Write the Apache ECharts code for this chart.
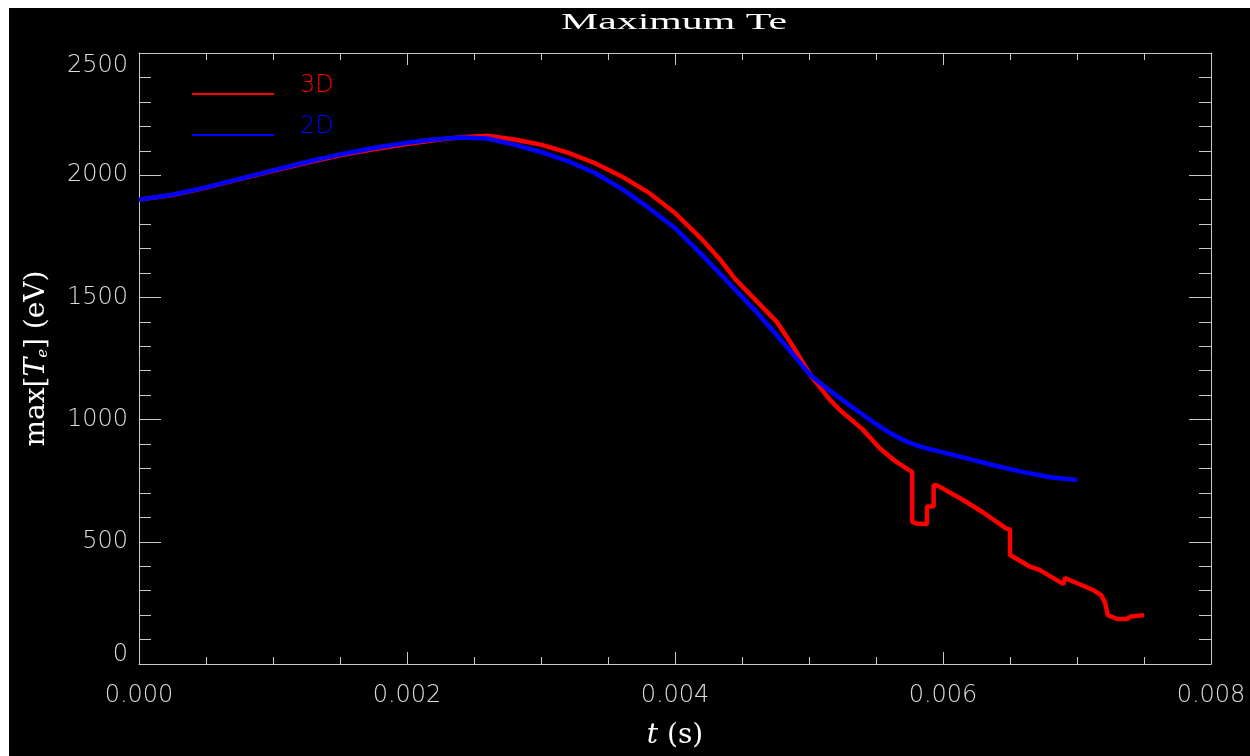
<!DOCTYPE html>
<html><head><meta charset="utf-8">
<script src="https://cdn.jsdelivr.net/npm/echarts@6/dist/echarts.min.js"></script>
<style>
html,body{margin:0;padding:0;background:#fff;width:1250px;height:756px;overflow:hidden}
#c{position:absolute;left:9px;top:8px;width:1241px;height:748px;background:#000}
</style>
</head><body><div id="c"></div>
<script>
// ---- data ----
const t3D = [0, 0.00025, 0.0005, 0.00075, 0.001, 0.00125, 0.0015, 0.00175, 0.002, 0.0022, 0.0024, 0.0026, 0.0028, 0.003, 0.0032, 0.0034, 0.0036, 0.0038, 0.004, 0.0042, 0.00434, 0.00445, 0.0046, 0.00476, 0.00488, 0.00502, 0.00515, 0.00523, 0.0054, 0.00553, 0.00565, 0.00577, 0.00577, 0.0058, 0.00588, 0.00588, 0.00593, 0.00593, 0.00596, 0.00615, 0.0063, 0.00647, 0.0065, 0.0065, 0.00665, 0.00672, 0.0069, 0.00691, 0.00712, 0.00718, 0.00721, 0.00723, 0.0073, 0.00737, 0.0074, 0.0075];
const v3D = [1900, 1919, 1949, 1984, 2018, 2051, 2081, 2106, 2128, 2143, 2155, 2161, 2146, 2125, 2092, 2050, 1996, 1930, 1845, 1738, 1653, 1575, 1490, 1400, 1300, 1175, 1085, 1039, 960, 882, 828, 785, 582, 575, 572, 644, 644, 732, 730, 671, 620, 555, 550, 446, 398, 385, 327, 352, 303, 282, 250, 200, 184, 184, 194, 200];
const t2D = [0, 0.00025, 0.0005, 0.00075, 0.001, 0.00125, 0.0015, 0.00175, 0.002, 0.0022, 0.0024, 0.0026, 0.0028, 0.003, 0.0032, 0.0034, 0.0036, 0.0038, 0.004, 0.0042, 0.0044, 0.0046, 0.0048, 0.005, 0.0051, 0.0052, 0.0053, 0.0054, 0.0055, 0.0056, 0.0057, 0.0058, 0.0059, 0.006, 0.0062, 0.0064, 0.0066, 0.0068, 0.007];
const v2D = [1900, 1920, 1950, 1985, 2020, 2054, 2085, 2111, 2133, 2146, 2154, 2150, 2125, 2095, 2058, 2010, 1945, 1868, 1784, 1675, 1560, 1445, 1320, 1188, 1142, 1100, 1060, 1021, 982, 947, 917, 895, 879, 866, 838, 810, 785, 764, 753];
const seriesNames = ['3D', '2D'];
const seriesColors = ['#ff0000', '#0000ff'];
const titleText = 'Maximum Te';
const xRange = [0, 0.008], xStep = 0.002;
const yRange = [0, 2500], yStep = 500;

const axisColor = '#c8c8c8';
const labelColor = '#dcdcdc';
const sans = 'DejaVu Sans';
const serif = 'DejaVu Serif';

// stretch title like the wide vector font of the original
function measure(text, font) {
  const cv = document.createElement('canvas').getContext('2d');
  cv.font = font; return cv.measureText(text).width;
}
const titleFont = '24px "Liberation Serif"';
const titleScale = 226 / measure(titleText, titleFont);

function mkX(pos, showLabel) {
  return {
    type: 'value', position: pos, min: xRange[0], max: xRange[1], interval: xStep,
    axisLine: {show: true, onZero: false, lineStyle: {color: axisColor, width: 1}},
    axisTick: {show: true, inside: true, length: 12, lineStyle: {color: axisColor}},
    minorTick: {show: true, splitNumber: 4, length: 7, lineStyle: {color: axisColor}},
    splitLine: {show: false},
    axisLabel: {show: showLabel, margin: 20, color: labelColor, fontFamily: sans, fontWeight: 200, fontSize: 24,
      formatter: v => v.toFixed(3)}
  };
}
function mkY(pos, showLabel) {
  return {
    type: 'value', position: pos, min: yRange[0], max: yRange[1], interval: yStep,
    axisLine: {show: true, onZero: false, lineStyle: {color: axisColor, width: 1}},
    axisTick: {show: true, inside: true, length: 22, lineStyle: {color: axisColor}},
    minorTick: {show: true, splitNumber: 5, length: 12, lineStyle: {color: axisColor}},
    splitLine: {show: false},
    axisLabel: {show: showLabel, margin: 11, color: labelColor, fontFamily: sans, fontWeight: 200, fontSize: 24,
      formatter: v => v === yRange[1] ? '{top|' + v + '}' : (v === yRange[0] ? '{bot|' + v + '}' : String(v)),
      rich: {
        top: {padding: [26, 0, 0, 0], color: labelColor, fontFamily: sans, fontWeight: 200, fontSize: 24},
        bot: {padding: [0, 0, 18, 0], color: labelColor, fontFamily: sans, fontWeight: 200, fontSize: 24}
      }}
  };
}

const xA = mkX('bottom', true);
xA.name = '{i|t} (s)';
xA.nameLocation = 'middle';
xA.nameGap = 58;
xA.nameTextStyle = {color: '#ffffff', fontFamily: serif, fontSize: 28,
  rich: {i: {fontFamily: serif, fontStyle: 'italic', fontSize: 28, color: '#ffffff'}}};
const yA = mkY('left', true);
yA.name = 'max[{i|T}{s|e}] (eV)';
yA.nameLocation = 'middle';
yA.nameRotate = 90;
yA.nameGap = 88;
yA.nameTextStyle = {color: '#ffffff', fontFamily: serif, fontSize: 28,
  rich: {
    i: {fontFamily: serif, fontStyle: 'italic', fontSize: 28, color: '#ffffff'},
    s: {fontFamily: serif, fontStyle: 'italic', fontSize: 15, color: '#ffffff', verticalAlign: 'bottom', padding: [12, 0, 0, 0]}
  }};

const chart = echarts.init(document.getElementById('c'), null, {renderer: 'canvas'});
chart.setOption({
  backgroundColor: '#000000',
  animation: false,
  grid: {left: 130, right: 39, top: 45, bottom: 92},
  graphic: [{
    type: 'text', x: 665, y: 15, scaleX: titleScale, scaleY: 1,
    style: {text: titleText, font: titleFont, fill: '#ffffff', align: 'center', verticalAlign: 'middle'}
  }],
  legend: {
    orient: 'vertical', left: 183, top: 66, padding: 0, itemGap: 1,
    itemWidth: 82, itemHeight: 2, icon: 'rect',
    formatter: name => '{n|' + name + '}\n{g| }',
    textStyle: {fontFamily: sans, fontWeight: 200, fontSize: 24, padding: [0, 0, 0, 21],
      rich: {
        n: {fontFamily: sans, fontWeight: 200, fontSize: 24, lineHeight: 24},
        g: {fontSize: 2, lineHeight: 16, height: 16}
      }},
    data: [
      {name: seriesNames[0], textStyle: {color: seriesColors[0]}},
      {name: seriesNames[1], textStyle: {color: seriesColors[1]}}
    ]
  },
  xAxis: [xA, mkX('top', false)],
  yAxis: [yA, mkY('right', false)],
  series: [
    {name: seriesNames[0], type: 'line', xAxisIndex: 0, yAxisIndex: 0, showSymbol: false, symbol: 'none',
      color: seriesColors[0], lineStyle: {color: seriesColors[0], width: 4.5},
      data: t3D.map((t, i) => [t, v3D[i]])},
    {name: seriesNames[1], type: 'line', xAxisIndex: 0, yAxisIndex: 0, showSymbol: false, symbol: 'none',
      color: seriesColors[1], lineStyle: {color: seriesColors[1], width: 4.5},
      data: t2D.map((t, i) => [t, v2D[i]])}
  ]
});
</script></body></html>
